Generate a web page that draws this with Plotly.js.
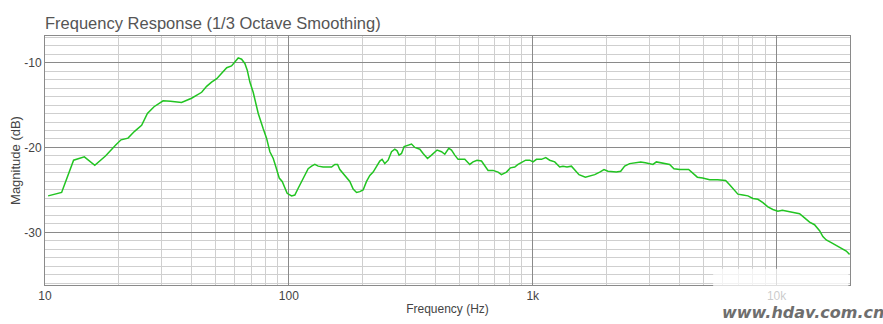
<!DOCTYPE html>
<html>
<head>
<meta charset="utf-8">
<script src="https://cdn.plot.ly/plotly-3.0.1.min.js"></script>
<style>
html,body{margin:0;padding:0;background:#fff;}
#chart{width:883px;height:324px;}
</style>
</head>
<body>
<div id="chart"></div>
<script>
// Frequency (Hz)
const freq = [10.3,11.7,13.1,14.5,16.0,17.7,19.5,20.5,21.9,23.3,24.9,26.3,28.0,30.5,32.7,36.3,39.9,43.9,46.0,48.2,
50.6,53.0,55.6,58.2,60.1,62.0,64.0,66.0,67.5,69.2,71.4,73.2,74.9,78.5,81.0,83.6,86.3,88.5,91.3,93.9,
96.3,98.4,102.6,105.8,109.2,112.7,116.3,120.0,123.9,127.8,131.9,138.2,144.9,149.6,154.4,158.4,161.8,166.9,172.4,177.8,
183.5,189.5,195.4,201.6,208.2,214.8,221.6,228.8,236.0,241.2,247.4,255.3,263.6,271.9,277.9,283.1,289.7,296.9,308.3,318.4,
328.5,344.4,355.2,370.3,384.5,405.4,422.6,435.9,452.7,464.4,479.1,494.3,526.5,551.9,569.3,591.2,616.4,635.9,656.0,687.7,
720.9,744.3,780.3,810.3,843.8,870.6,898.9,936.0,972.1,1003,1036,1086,1131,1174,1231,1290,1331,1382,1441,1486,
1548,1644,1713,1796,1882,1960,2035,2203,2295,2383,2497,2618,2771,2897,3017,3112,3214,3347,3475,3643,
3794,4005,4359,4539,4732,4973,5314,5730,6180,6418,6728,6940,7276,7628,7998,8382,8788,9212,9656,10120,
10555,10960,11305,11850,12425,13025,13653,14310,15005,15480,15985,16760,17570,18420,19310,19920];
// Magnitude (dB)
const magnitude = [-25.7,-25.3,-21.5,-21.1,-22.1,-21.0,-19.7,-19.1,-18.9,-18.1,-17.4,-16.0,-15.2,-14.5,-14.55,-14.7,-14.2,-13.5,-12.8,-12.3,
-11.9,-11.3,-10.6,-10.4,-9.85,-9.45,-9.6,-10.1,-10.9,-12.3,-13.5,-14.8,-16.0,-17.8,-18.9,-20.5,-21.3,-22.3,-23.6,-24.0,
-24.8,-25.4,-25.7,-25.6,-24.8,-24.0,-23.3,-22.5,-22.2,-22.0,-22.2,-22.3,-22.3,-22.3,-22.0,-22.0,-22.6,-23.1,-23.5,-24.0,
-24.9,-25.3,-25.2,-25.0,-24.0,-23.3,-22.9,-22.2,-21.6,-21.4,-21.9,-21.5,-20.5,-20.2,-20.4,-20.9,-20.7,-19.9,-19.7,-19.6,
-20.0,-20.2,-20.7,-21.3,-20.9,-20.3,-20.5,-20.8,-20.1,-20.3,-20.9,-21.4,-21.4,-22.0,-21.7,-21.5,-21.6,-22.1,-22.7,-22.7,
-22.9,-23.2,-22.9,-22.4,-22.3,-22.0,-21.8,-21.5,-21.5,-21.7,-21.4,-21.4,-21.2,-21.5,-21.7,-22.3,-22.2,-22.3,-22.2,-22.6,
-23.2,-23.5,-23.4,-23.2,-22.9,-22.6,-22.8,-22.9,-22.8,-22.2,-21.9,-21.8,-21.7,-21.8,-21.9,-22.0,-21.7,-21.8,-21.9,-22.0,
-22.5,-22.6,-22.6,-23.1,-23.5,-23.6,-23.8,-23.8,-23.9,-24.4,-25.0,-25.5,-25.6,-25.7,-26.0,-26.1,-26.5,-27.0,-27.3,-27.5,
-27.4,-27.5,-27.6,-27.7,-27.8,-28.3,-28.8,-29.1,-29.8,-30.5,-30.9,-31.2,-31.5,-31.9,-32.2,-32.6];

const xTickVals = [10,100,1000,10000];
const xTickText = ['10','100','1k','10k'];
const yTickVals = [-30,-20,-10];
const yTickText = ['-30','-20','-10'];

const trace = {
  x: freq, y: magnitude, type: 'scatter', mode: 'lines',
  line: {color: '#22c422', width: 1.5},
  hoverinfo: 'skip'
};

const layout = {
  width: 883, height: 324,
  margin: {l: 45, r: 33, t: 36, b: 39},
  paper_bgcolor: '#ffffff', plot_bgcolor: '#ffffff',
  font: {family: 'Liberation Sans, Arial, sans-serif', size: 12, color: '#444'},
  showlegend: false,
  title: {
    text: 'Frequency Response (1/3 Octave Smoothing)',
    x: 0, xanchor: 'left', xref: 'paper',
    y: 1 - 23/324, yanchor: 'middle', yref: 'container',
    font: {family: 'Liberation Sans, Arial, sans-serif', size: 16.5, color: '#555'}
  },
  xaxis: {
    type: 'log', range: [1, Math.log10(20000)],
    tickvals: xTickVals, ticktext: xTickText,
    showgrid: true, gridcolor: '#8a8a8a', gridwidth: 1,
    minor: {dtick: 'D1', showgrid: true, gridcolor: '#cfcfcf', gridwidth: 1, ticks: ''},
    showline: true, linecolor: '#8a8a8a', linewidth: 1, mirror: true,
    ticks: '', ticklen: 0, zeroline: false,
    tickfont: {size: 12, color: '#444'},
    title: {text: 'Frequency (Hz)', font: {size: 12, color: '#444'}, standoff: 2}
  },
  yaxis: {
    range: [-36.2, -6.87],
    tickvals: yTickVals, ticktext: yTickText,
    showgrid: true, gridcolor: '#8a8a8a', gridwidth: 1,
    minor: {dtick: 1, showgrid: true, gridcolor: '#cfcfcf', gridwidth: 1, ticks: ''},
    showline: true, linecolor: '#8a8a8a', linewidth: 1, mirror: true,
    ticks: '', zeroline: false,
    tickfont: {size: 12, color: '#444'},
    title: {text: 'Magnitude (dB)', font: {size: 13, color: '#444'}, standoff: 0}
  },
  shapes: [
    {type: 'rect', xref: 'paper', yref: 'paper', x0: 0.83, x1: 0.998, y0: -0.06, y1: 0.065,
     fillcolor: 'rgba(255,255,255,0.72)', line: {width: 0}, layer: 'above'}
  ],
  annotations: [
    {text: '<b><i>www.hdav.com.cn</i></b>', xref: 'paper', yref: 'paper',
     x: 1.045, y: -0.112, xanchor: 'right', yanchor: 'middle', showarrow: false,
     font: {family: 'DejaVu Sans, sans-serif', size: 16, color: '#6e6e6e'}}
  ]
};

Plotly.newPlot('chart', [trace], layout, {displayModeBar: false, staticPlot: true});
</script>
</body>
</html>
